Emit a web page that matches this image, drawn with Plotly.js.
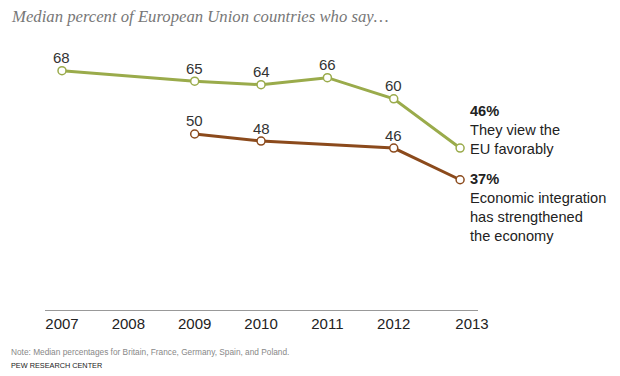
<!DOCTYPE html>
<html><head><meta charset="utf-8">
<script src="https://cdn.plot.ly/plotly-3.0.1.min.js"></script>
<style>html,body{margin:0;padding:0;background:#fff;}#chart{width:620px;height:376px;}</style>
</head><body><div id="chart"></div>
<script>
const favYears = [2007, 2009, 2010, 2011, 2012, 2013];
const favValues = [68, 65, 64, 66, 60, 46];
const econYears = [2009, 2010, 2012, 2013];
const econValues = [50, 48, 46, 37];
const tickYears = [2007, 2008, 2009, 2010, 2011, 2012, 2013];
const tickLabels = ['2007', '2008', '2009', '2010', '2011', '2012', '2013'];
const favLabel = ['46%', 'They view the', 'EU favorably'];
const econLabel = ['37%', 'Economic integration', 'has strengthened', 'the economy'];

const green = '#9aab4b';
const brown = '#8b4a1c';
const font = 'Liberation Sans, Arial, sans-serif';
const narrow = 'Liberation Sans Narrow, Liberation Sans, Arial, sans-serif';

function lineTrace(xs, ys, color) {
  return {
    x: xs, y: ys, type: 'scatter', mode: 'lines+markers',
    line: {color: color, width: 3},
    marker: {size: 8, color: '#fff', line: {color: color, width: 1.5}},
    hoverinfo: 'none', cliponaxis: false
  };
}

const annotations = [];
// value labels above every point except the last
function valueLabels(xs, ys) {
  for (let i = 0; i < xs.length - 1; i++) {
    annotations.push({
      x: xs[i], y: ys[i], xref: 'x', yref: 'y', xanchor: 'center', yanchor: 'middle',
      yshift: 13, showarrow: false, text: String(ys[i]),
      font: {family: font, size: 15, color: '#333'}
    });
  }
}
valueLabels(favYears, favValues);
valueLabels(econYears, econValues);

annotations.push({
  x: favYears[favYears.length-1], y: favValues[favValues.length-1], xref: 'x', yref: 'y',
  xanchor: 'left', yanchor: 'middle', xshift: 8, yshift: 18, showarrow: false, align: 'left',
  text: '<b>' + favLabel[0] + '</b><br>' + favLabel.slice(1).join('<br>'),
  font: {family: font, size: 14.6, color: '#222'}
});
annotations.push({
  x: econYears[econYears.length-1], y: econValues[econValues.length-1], xref: 'x', yref: 'y',
  xanchor: 'left', yanchor: 'top', xshift: 8, yshift: 11, showarrow: false, align: 'left',
  text: '<b>' + econLabel[0] + '</b><br>' + econLabel.slice(1).join('<br>'),
  font: {family: font, size: 14.6, color: '#222'}
});
annotations.push({
  x: -0.083, y: 1.088, xref: 'paper', yref: 'paper', xanchor: 'left', yanchor: 'middle', showarrow: false,
  text: '<i>Median percent of European Union countries who say…</i>',
  font: {family: 'Liberation Serif, Georgia, serif', size: 16.7, color: '#777'}
});
annotations.push({
  x: -0.083, y: -0.156, xref: 'paper', yref: 'paper', xanchor: 'left', yanchor: 'middle', showarrow: false,
  text: 'Note: Median percentages for Britain, France, Germany, Spain, and Poland.',
  font: {family: narrow, size: 8.3, color: '#888'}
});
annotations.push({
  x: -0.083, y: -0.204, xref: 'paper', yref: 'paper', xanchor: 'left', yanchor: 'middle', showarrow: false,
  text: 'PEW RESEARCH CENTER',
  font: {family: narrow, size: 7.3, color: '#222'}
});

const tickVals = tickYears.map((y, i) => i === tickYears.length - 1 ? y + 0.18 : y);

const layout = {
  width: 620, height: 376,
  margin: {l: 45, r: 142, t: 40, b: 66},
  paper_bgcolor: '#fff', plot_bgcolor: '#fff',
  showlegend: false,
  xaxis: {
    range: [2006.744, 2013.27], tickvals: tickVals, ticktext: tickLabels,
    showgrid: false, zeroline: false, showline: true, linecolor: '#999', linewidth: 1,
    ticks: '', tickfont: {family: font, size: 15, color: '#222'}, fixedrange: true
  },
  yaxis: {
    range: [0, 76.7], showgrid: false, zeroline: false, showline: false,
    showticklabels: false, ticks: '', fixedrange: true
  },
  annotations: annotations
};

Plotly.newPlot('chart', [
  lineTrace(favYears, favValues, green),
  lineTrace(econYears, econValues, brown)
], layout, {staticPlot: true, displayModeBar: false});
</script></body></html>
